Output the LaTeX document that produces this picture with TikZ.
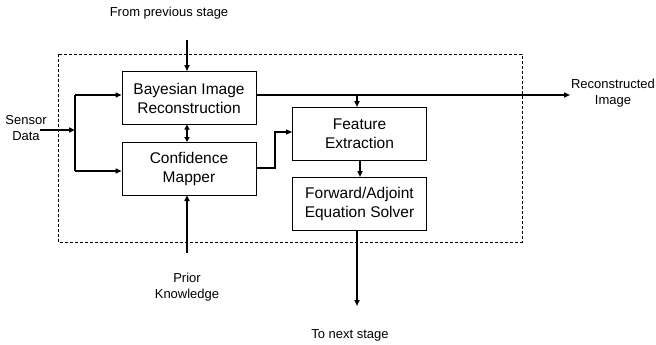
\documentclass[tikz,border=0pt]{standalone}
\usepackage{fontspec}
\setmainfont{Liberation Sans}
\usetikzlibrary{arrows.meta}
\begin{document}
\begin{tikzpicture}[x=1pt,y=-1pt,
  blockbox/.style={draw,line width=0.9pt,minimum width=134pt,minimum height=53pt,
    inner sep=0pt,align=center,font=\fontsize{15.5}{19}\selectfont},
  lbl/.style={align=center,inner sep=0pt,font=\fontsize{13}{16.5}\selectfont},
  flow/.style={line width=1.6pt,-{Triangle[length=6pt,width=5pt]}},
  wire/.style={line width=1.6pt}]
\useasboundingbox (0,0) rectangle (656,345);
% stage boundary
\draw[dashed,line width=0.7pt,dash pattern=on 3pt off 2pt] (58,54) rectangle (522,242);
% processing blocks
\node[blockbox] (bay) at (189,98) {Bayesian Image\\Reconstruction};
\node[blockbox] (conf) at (189,168.5) {Confidence\\Mapper};
\node[blockbox] (feat) at (359.5,133.5) {Feature\\Extraction};
\node[blockbox] (solv) at (359.5,204) {Forward/Adjoint\\Equation Solver};
% external labels
\node[lbl] (prev) at (169,13) {From previous stage};
\node[lbl] (sens) at (26,128) {Sensor\\Data};
\node[lbl] (recon) at (613,93) {Reconstructed\\Image};
\node[lbl] (prior) at (187,287) {Prior\\Knowledge};
\node[lbl] (next) at (350,335) {To next stage};
% helper points
\coordinate (pin) at (187,40);
\coordinate (sin) at (40,130);
\coordinate (split) at (75,130);
\coordinate (rout) at (570,95);
\coordinate (pk) at (187,253);
\coordinate (nout) at (357,306);
% connectors
\draw[flow] (pin) -- (pin |- bay.north);
\draw[flow] (sin) -- (split);
\draw[wire] (split) -- (75,95);
\draw[wire] (split) -- (75,171);
\draw[flow] (75,95) -- (bay.west |- 0,95);
\draw[flow] (75,171) -- (conf.west |- 0,171);
\draw[line width=1.6pt,{Triangle[length=5pt,width=5pt]}-{Triangle[length=5pt,width=5pt]}] (187,124.5) -- (187,142);
\draw[flow] (bay.east |- 0,95) -- (rout);
\draw[flow] (357,95) -- (357,107);
\draw[flow] (conf.east |- 0,168) -- (275,168) -- (275,132) -- (feat.west |- 0,132);
\draw[flow] (360,160) -- (360,177);
\draw[flow] (pk) -- (187,195);
\draw[flow] (357,230.5) -- (nout);
\end{tikzpicture}
\end{document}
